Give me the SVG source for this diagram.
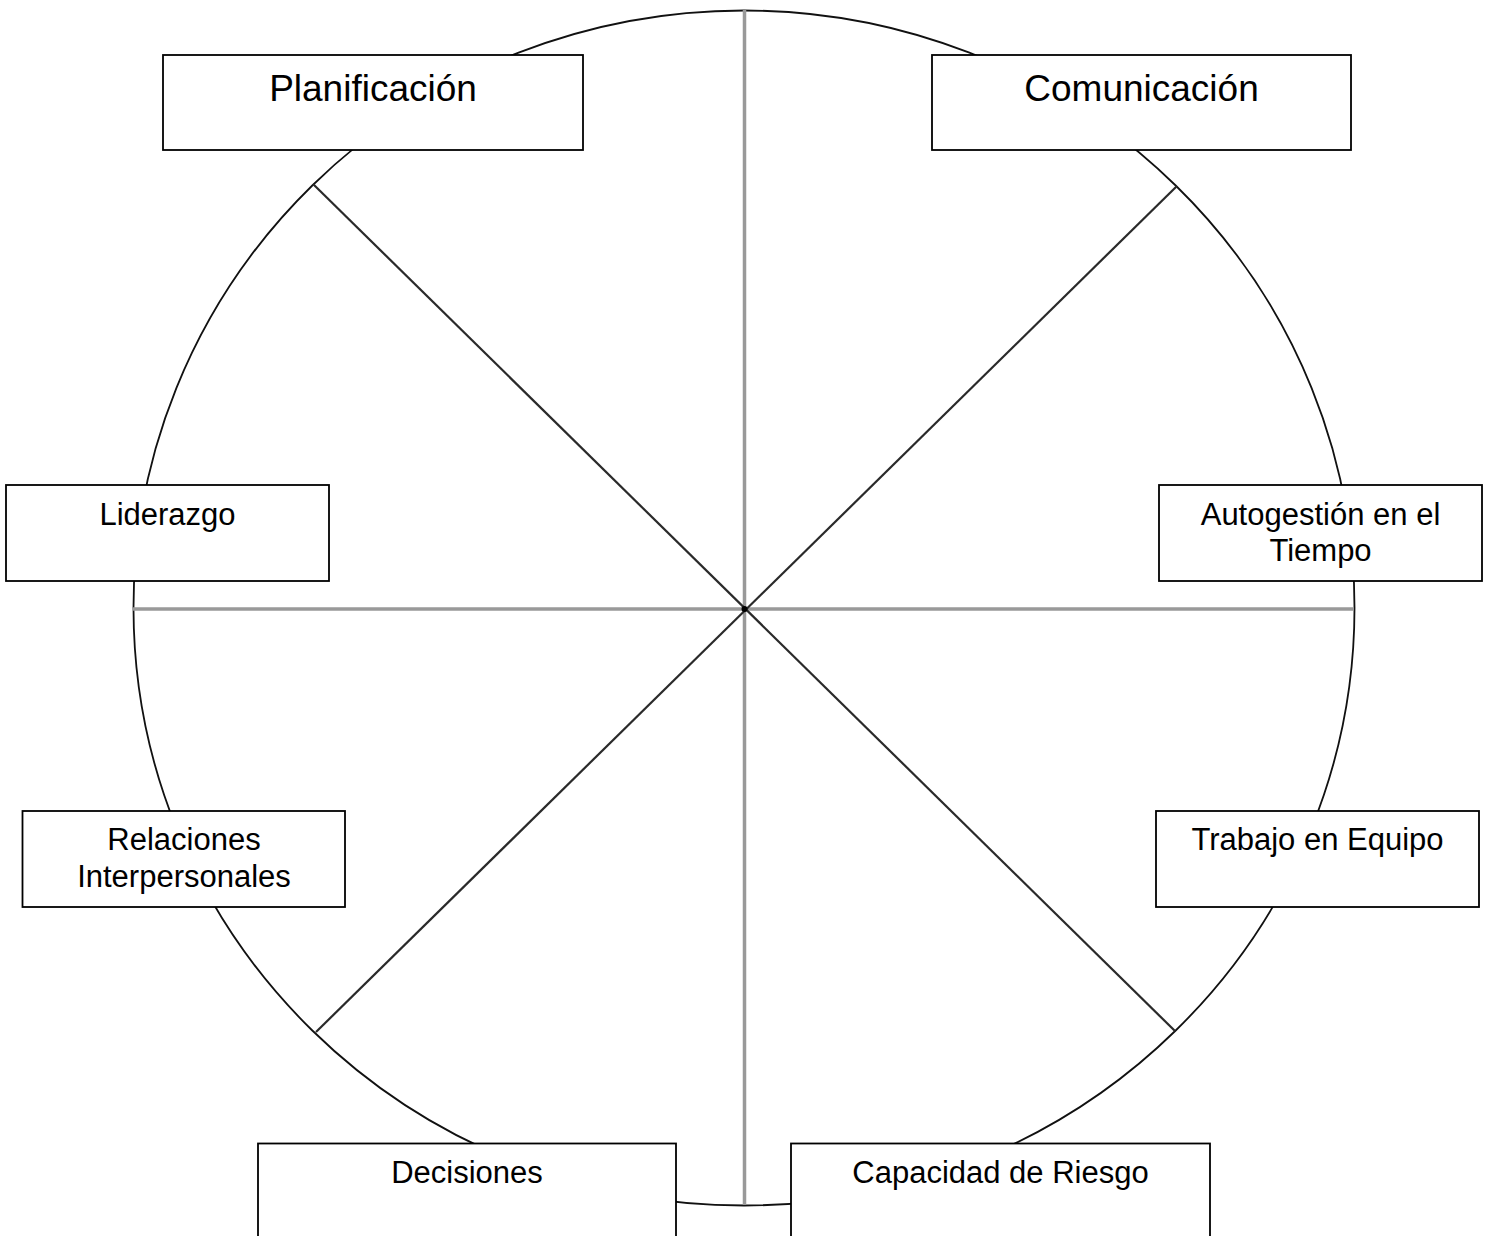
<svg xmlns="http://www.w3.org/2000/svg" width="1492" height="1236" viewBox="0 0 1492 1236">
<style>
.box{fill:#fff;stroke:#000;stroke-width:1.8}
.t{font-family:"Liberation Sans",Arial,sans-serif;fill:#000;text-anchor:middle}
.big{font-size:37px}
.sm{font-size:31px}
.axis{stroke:#999;stroke-width:3.5;fill:none}
.diag{stroke:#2a2a2a;stroke-width:2.2;fill:none}
</style>
<rect width="1492" height="1236" fill="#fff"/>
<g id="wheel">
<ellipse cx="744" cy="608" rx="610.5" ry="597.5" fill="none" stroke="#111" stroke-width="1.8"/>
</g>
<g id="connectors">
<line class="axis" x1="744.5" y1="10" x2="744.5" y2="1205"/>
<line class="axis" x1="133" y1="609" x2="1354" y2="609"/>
<line class="diag" x1="313" y1="184" x2="1175" y2="1031"/>
<line class="diag" x1="1177" y1="186" x2="316" y2="1032"/>
<circle cx="744.5" cy="609" r="3" fill="#000"/>
</g>
<g id="planificacion"><rect class="box" x="163" y="55" width="420" height="95"/><text class="t big" x="373" y="101">Planificación</text></g>
<g id="comunicacion"><rect class="box" x="932" y="55" width="419" height="95"/><text class="t big" x="1141.5" y="101">Comunicación</text></g>
<g id="liderazgo"><rect class="box" x="6" y="485" width="323" height="96"/><text class="t sm" x="167.5" y="525">Liderazgo</text></g>
<g id="autogestion"><rect class="box" x="1159" y="485" width="323" height="96"/><text class="t sm" x="1320.5" y="525">Autogestión en el</text><text class="t sm" x="1320.5" y="561">Tiempo</text></g>
<g id="relaciones"><rect class="box" x="22.5" y="811" width="322.5" height="96"/><text class="t sm" x="184" y="850">Relaciones</text><text class="t sm" x="184" y="887">Interpersonales</text></g>
<g id="trabajo"><rect class="box" x="1156" y="811" width="323" height="96"/><text class="t sm" x="1317.5" y="850">Trabajo en Equipo</text></g>
<g id="decisiones"><rect class="box" x="258" y="1143.5" width="418" height="100"/><text class="t sm" x="467" y="1183">Decisiones</text></g>
<g id="capacidad"><rect class="box" x="791" y="1143.5" width="419" height="100"/><text class="t sm" x="1000.5" y="1183">Capacidad de Riesgo</text></g>
</svg>
